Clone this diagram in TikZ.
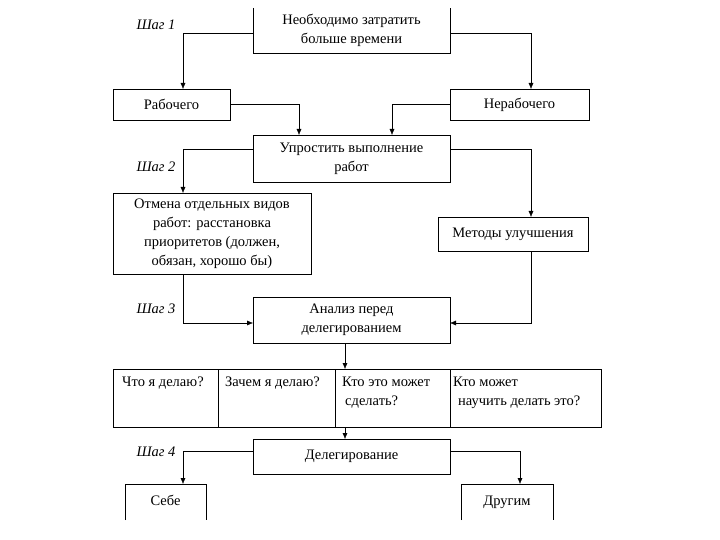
\documentclass[tikz,border=0pt]{standalone}
\usepackage{fontspec}
\setmainfont{Liberation Serif}
\usetikzlibrary{arrows.meta}
\tikzset{
  box/.style={draw, thin, inner sep=2pt, outer sep=0pt, align=center},
  openbox/.style={inner sep=2pt, outer sep=0pt, align=center},
  cellbox/.style={draw, thin, anchor=north west, outer sep=0pt, minimum height=58pt},
  celltext/.style={anchor=north west, inner sep=0pt, align=left},
  steplabel/.style={font=\fontsize{14.5}{19}\selectfont\itshape},
  arr/.style={thin, -{Latex[length=6pt,width=5pt]}}
}
\begin{document}
\begin{tikzpicture}[x=1pt, y=-1pt, font=\fontsize{14.5}{19}\selectfont]
\useasboundingbox (0,0) rectangle (720,540);
% step 1
\node[openbox, minimum width=197pt, minimum height=45pt] (top) at (351.5,30.5) {Необходимо затратить\\больше времени};
\draw[thin] (top.north west) -- (top.south west) -- (top.south east) -- (top.north east);
\node[steplabel] (step1) at (156,25) {Шаг 1};
\node[box, minimum width=117pt, minimum height=31pt] (rab) at (171.5,104.5) {Рабочего};
\node[box, minimum width=139pt, minimum height=31pt] (nerab) at (519.5,104.5) {Нерабочего};
\draw[arr] ([yshift=-2.5pt]top.west) -| ([xshift=11.5pt]rab.north);
\draw[arr] ([yshift=-2.5pt]top.east) -| ([xshift=11.5pt]nerab.north);
% step 2
\node[box, minimum width=197pt, minimum height=47pt] (upr) at (351.5,158.5) {Упростить выполнение\\работ};
\draw[arr] (rab.east) -| ([xshift=-52.5pt]upr.north);
\draw[arr] (nerab.west) -| ([xshift=40.5pt]upr.north);
\node[steplabel] (step2) at (156,167) {Шаг 2};
\node[box, minimum width=198pt, minimum height=81pt] (otm) at (212,233.5) {Отмена отдельных видов\\работ: расстановка\\приоритетов (должен,\\обязан, хорошо бы)};
\node[box, minimum width=150pt, minimum height=34pt] (met) at (513,234) {Методы улучшения};
\draw[arr] ([yshift=9.5pt]upr.west) -| ([xshift=-29pt]otm.north);
\draw[arr] ([yshift=9.5pt]upr.east) -| ([xshift=18pt]met.north);
% step 3
\node[steplabel] (step3) at (156,309) {Шаг 3};
\node[box, minimum width=197pt, minimum height=46pt] (anal) at (351.5,320) {Анализ перед\\делегированием};
\draw[arr] ([xshift=-29pt]otm.south) |- ([yshift=-3pt]anal.west);
\draw[arr] ([xshift=18pt]met.south) |- ([yshift=-3pt]anal.east);
\node[cellbox, minimum width=105pt] (c1) at (113,369) {};
\node[cellbox, minimum width=117pt] (c2) at (218,369) {};
\node[cellbox, minimum width=115pt] (c3) at (335,369) {};
\node[cellbox, minimum width=151pt] (c4) at (450,369) {};
\node[celltext] (t1) at ([xshift=9pt,yshift=-8pt]c1.north west) {Что я делаю?};
\node[celltext] (t2) at ([xshift=7pt,yshift=-8pt]c2.north west) {Зачем я делаю?};
\node[celltext] (t3) at ([xshift=7pt,yshift=-8pt]c3.north west) {Кто это может\\\hspace{3pt}сделать?};
\node[celltext] (t4) at ([xshift=3pt,yshift=-8pt]c4.north west) {Кто может\\\hspace{5pt}научить делать это?};
\draw[arr] ([xshift=-6.5pt]anal.south) -- ([xshift=-6.5pt]anal.south |- c3.north);
% step 4
\node[box, minimum width=197pt, minimum height=35pt] (deleg) at (351.5,456.5) {Делегирование};
\draw[arr] ([xshift=-6.5pt]deleg.north |- c3.south) -- ([xshift=-6.5pt]deleg.north);
\node[steplabel] (step4) at (156,452) {Шаг 4};
\node[openbox, minimum width=81pt, minimum height=35pt, text height=10pt, text depth=3pt] (sebe) at (165.5,501.5) {Себе};
\node[openbox, minimum width=92pt, minimum height=35pt, text height=10pt, text depth=3pt] (drug) at (507,501.5) {Другим};
\draw[thin] ([yshift=-1pt]sebe.south west) -- (sebe.north west) -- (sebe.north east) -- ([yshift=-1pt]sebe.south east);
\draw[thin] ([yshift=-1pt]drug.south west) -- (drug.north west) -- (drug.north east) -- ([yshift=-1pt]drug.south east);
\draw[arr] ([yshift=5.5pt]deleg.west) -| ([xshift=17.5pt]sebe.north);
\draw[arr] ([yshift=5.5pt]deleg.east) -| ([xshift=13pt]drug.north);
\end{tikzpicture}
\end{document}
